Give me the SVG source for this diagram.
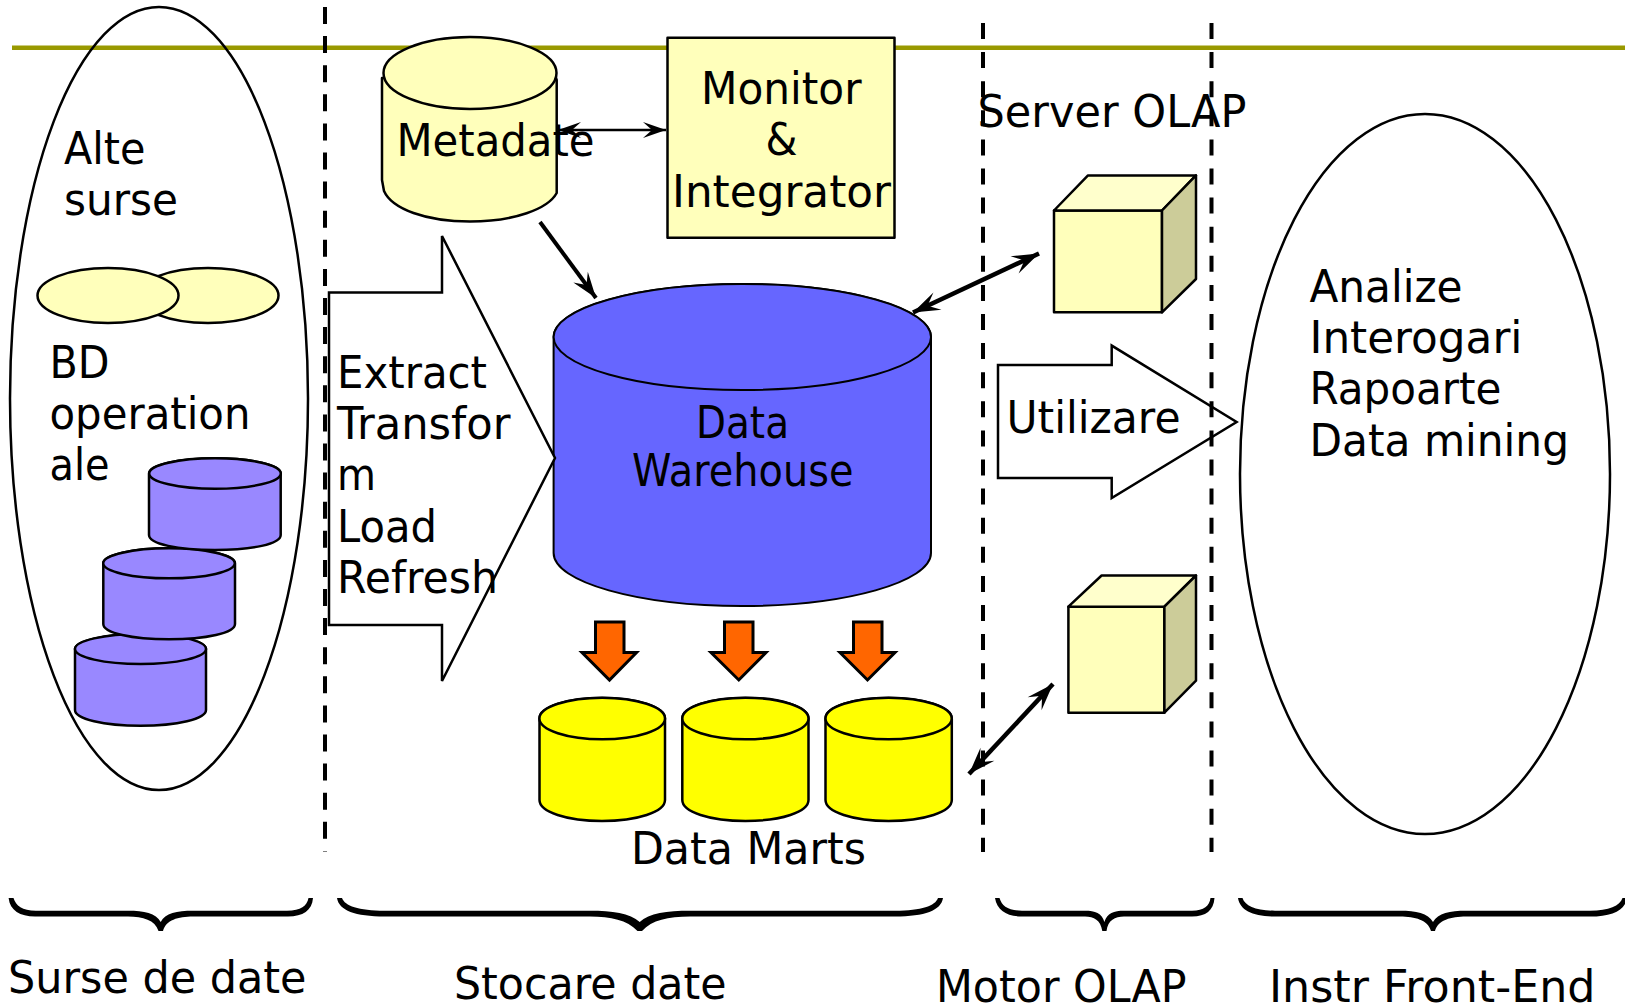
<svg xmlns="http://www.w3.org/2000/svg" width="1625" height="1007" viewBox="0 0 1625 1007">
<style>
text{font-family:"DejaVu Sans",Verdana,sans-serif;font-size:44px;fill:#000}
.s{stroke:#000;stroke-width:2.5;stroke-linejoin:round}
.blob{fill:none;stroke:#000;stroke-width:2.5}
.dash{stroke:#000;stroke-width:4;fill:none}
.lite{fill:#ffffbb}
.top{fill:#ffffcc}
.side{fill:#cccc99}
.purple{fill:#9988ff}
.yellow{fill:#ffff00}
.blue{fill:#6666ff;stroke-width:2}
.orange{fill:#ff6600;stroke:#000;stroke-width:3;stroke-linejoin:miter}
.arr{fill:#fff;stroke:#000;stroke-width:2.5;stroke-linejoin:miter}
.brace{fill:#000}
</style>
<defs>
<marker id="hb" markerUnits="userSpaceOnUse" markerWidth="30" markerHeight="22" refX="28" refY="11" orient="auto-start-reverse" overflow="visible">
<path d="M28 11 L1 1.5 L12 11 L1 20.5 Z" fill="#000"/>
</marker>
<marker id="hm" markerUnits="userSpaceOnUse" markerWidth="30" markerHeight="22" refX="28" refY="11" orient="auto" overflow="visible">
<path d="M28 11 L2 2 L12 11 L2 20 Z" fill="#000"/>
</marker>
<marker id="hs" markerUnits="userSpaceOnUse" markerWidth="30" markerHeight="22" refX="28" refY="11" orient="auto-start-reverse" overflow="visible">
<path d="M28 11 L5 3 L14 11 L5 19 Z" fill="#000"/>
</marker>
</defs>

<rect id="rule" x="12" y="45.5" width="1613" height="4.5" fill="#999900"/>

<g id="surse-ellipse"><ellipse class="blob" cx="159" cy="398.5" rx="149" ry="391.5"/></g>
<g id="front-end-ellipse"><ellipse class="blob" cx="1425" cy="474" rx="185" ry="360"/></g>

<g id="metadata">
<path class="s lite" d="M382 78 V180 L384 191 C392 209 426 221.5 470 221.5 C514 221.5 548 209 556.7 193 V80 L556 78 H383 Z"/>
<ellipse class="s lite" cx="470" cy="73" rx="86.5" ry="36"/>
</g>

<g id="monitor">
<rect class="s lite" x="667.5" y="37.7" width="227" height="200"/>
</g>

<g id="warehouse">
<path class="s blue" d="M553.6 337 V553 C553.6 582 638 606 742 606 C846 606 931 582 931 553 V337 C931 308 846 284 742 284 C638 284 553.6 308 553.6 337 Z"/>
<ellipse class="s blue" cx="742.3" cy="337" rx="188.7" ry="53"/>
</g>

<g id="etl">
<path class="arr" d="M329 292.5 H442 V236 L555 458 L442 681 V625 H329 Z"/>
</g>

<g id="utilizare">
<path class="arr" d="M998 365 H1111.7 V345.6 L1236.6 422 L1111.7 498 V478 H998 Z"/>
</g>

<g id="cube-top">
<path class="s lite" d="M1054 210.5 H1162 V312.3 H1054 Z"/>
<path class="s top" d="M1054 210.5 L1088 175.4 H1196 L1162 210.5 Z"/>
<path class="s side" d="M1162 210.5 L1196 175.4 V279 L1162 312.3 Z"/>
</g>

<g id="cube-bottom">
<path class="s lite" d="M1068.4 606.7 H1164.4 V712.7 H1068.4 Z"/>
<path class="s top" d="M1068.4 606.7 L1101.6 575.5 H1196 L1164.4 606.7 Z"/>
<path class="s side" d="M1164.4 606.7 L1196 575.5 V680.7 L1164.4 712.7 Z"/>
</g>

<g id="ellipses-alte">
<ellipse class="s lite" cx="208" cy="295.5" rx="70.5" ry="27.5"/>
<ellipse class="s lite" cx="108" cy="295.5" rx="70.5" ry="27.5"/>
</g>

<g id="bd-3">
<path class="s purple" d="M75 649 V710 C75 719 104 725.7 140.5 725.7 C177 725.7 206 719 206 710 V649 C206 641 177 634.3 140.5 634.3 C104 634.3 75 641 75 649 Z"/>
<ellipse class="s purple" cx="140.5" cy="649" rx="65.5" ry="15"/>
</g>
<g id="bd-2">
<path class="s purple" d="M103.3 563.3 V624 C103.3 633 132 639.3 169 639.3 C206 639.3 235 633 235 624 V563.3 C235 555 206 548.3 169 548.3 C132 548.3 103.3 555 103.3 563.3 Z"/>
<ellipse class="s purple" cx="169" cy="563.3" rx="65.8" ry="15"/>
</g>
<g id="bd-1">
<path class="s purple" d="M149 473.5 V535 C149 544 178 550 215 550 C252 550 280.7 544 280.7 535 V473.5 C280.7 465 252 458.3 215 458.3 C178 458.3 149 465 149 473.5 Z"/>
<ellipse class="s purple" cx="215" cy="473.5" rx="65.8" ry="15.3"/>
</g>

<g id="mart-1">
<path class="s yellow" d="M539.5 718.5 V800 C539.5 812 567 821 602 821 C637 821 665 812 665 800 V718.5 C665 707 637 698 602 698 C567 698 539.5 707 539.5 718.5 Z"/>
<ellipse class="s yellow" cx="602.2" cy="718.5" rx="62.8" ry="20.8"/>
</g>
<g id="mart-2">
<path class="s yellow" d="M682.3 718.5 V800 C682.3 812 710 821 745.4 821 C781 821 808.5 812 808.5 800 V718.5 C808.5 707 781 698 745.4 698 C710 698 682.3 707 682.3 718.5 Z"/>
<ellipse class="s yellow" cx="745.4" cy="718.5" rx="63.1" ry="20.8"/>
</g>
<g id="mart-3">
<path class="s yellow" d="M825.5 718.5 V800 C825.5 812 853 821 888.6 821 C924 821 951.8 812 951.8 800 V718.5 C951.8 707 924 698 888.6 698 C853 698 825.5 707 825.5 718.5 Z"/>
<ellipse class="s yellow" cx="888.6" cy="718.5" rx="63.1" ry="20.8"/>
</g>

<g id="down-arrows">
<path class="orange" d="M595.5 622 H624 V652.5 H636.5 L609.5 680 L582 652.5 H595.5 Z"/>
<path class="orange" d="M724.5 622 H753 V652.5 H766 L738.8 680 L711 652.5 H724.5 Z"/>
<path class="orange" d="M853.5 622 H882 V652.5 H895 L867.5 680 L840 652.5 H853.5 Z"/>
</g>

<g id="connectors" fill="none" stroke="#000">
<line class="dash" x1="325" y1="7" x2="325" y2="851.5" stroke-dasharray="17 12.1"/>
<line class="dash" x1="983" y1="23" x2="983" y2="852" stroke-dasharray="16 13.1"/>
<line class="dash" x1="1211.5" y1="23" x2="1211.5" y2="852" stroke-dasharray="16 13.1"/>
<line x1="558" y1="130" x2="666" y2="130" stroke-width="2.5" marker-start="url(#hs)" marker-end="url(#hs)"/>
<line x1="540" y1="222" x2="596" y2="298" stroke-width="4" marker-end="url(#hm)"/>
<line x1="913" y1="312.5" x2="1039" y2="253.5" stroke-width="4.5" marker-start="url(#hb)" marker-end="url(#hb)"/>
<line x1="969" y1="774" x2="1053" y2="684" stroke-width="4.5" marker-start="url(#hb)" marker-end="url(#hb)"/>
</g>

<g id="braces">
<path class="brace" d="M8.6 898 H13.5 C16 906 22 910.7 36 910.7 H128 C144 910.7 156 913 160.7 922 C165 913 177 910.7 193 910.7 H287 C301 910.7 307 906 308.5 898 H313 C312 910.5 303 916.5 288 916.5 H193 C178 916.5 166 920 163 931 H158.5 C155 920 143 916.5 128 916.5 H35 C20 916.5 10 910.5 8.6 898 Z"/>
<path class="brace" d="M337 898 H342 C345 906 358 910.7 385 910.7 H590 C612 910.7 630 913 639.7 922 C649 913 667 910.7 690 910.7 H895 C922 910.7 935 906 938 898 H943 C941 910.5 925 916.5 895 916.5 H690 C668 916.5 652 920 642 931 H637.5 C627 920 611 916.5 590 916.5 H385 C355 916.5 339 910.5 337 898 Z"/>
<path class="brace" d="M995 898 H999.5 C1002 906 1008 910.7 1022 910.7 H1085 C1095 910.7 1102 913 1104.4 922 C1107 913 1114 910.7 1124 910.7 H1192 C1204 910.7 1209.5 906 1210.5 898 H1214.5 C1213.5 910.5 1206 916.5 1192 916.5 H1124 C1115 916.5 1108 920 1106.5 931 H1102.3 C1100.5 920 1094 916.5 1085 916.5 H1022 C1007 916.5 997 910.5 995 898 Z"/>
<path class="brace" d="M1238 898 H1242.5 C1245 906 1256 910.7 1275 910.7 H1400 C1416 910.7 1428 913 1433 922 C1438 913 1450 910.7 1466 910.7 H1590 C1609 910.7 1620 906 1622.5 898 H1627 C1625 910.5 1612 916.5 1590 916.5 H1466 C1451 916.5 1438 920 1435 931 H1431 C1428 920 1415 916.5 1400 916.5 H1275 C1253 916.5 1240 910.5 1238 898 Z"/>
</g>

<g id="labels">
<text x="64" y="163.5" textLength="81.5" lengthAdjust="spacingAndGlyphs">Alte</text>
<text x="64" y="214.5" textLength="114" lengthAdjust="spacingAndGlyphs">surse</text>
<text x="49.5" y="377.5" textLength="60" lengthAdjust="spacingAndGlyphs">BD</text>
<text x="49.5" y="429" textLength="201" lengthAdjust="spacingAndGlyphs">operation</text>
<text x="49.5" y="480" textLength="60" lengthAdjust="spacingAndGlyphs">ale</text>
<text x="396.5" y="156" textLength="198" lengthAdjust="spacingAndGlyphs">Metadate</text>
<text x="701" y="104" textLength="160.5" lengthAdjust="spacingAndGlyphs">Monitor</text>
<text x="765.5" y="154.5" textLength="32" lengthAdjust="spacingAndGlyphs">&amp;</text>
<text x="672" y="206.5" textLength="219" lengthAdjust="spacingAndGlyphs">Integrator</text>
<text x="337" y="388" textLength="150" lengthAdjust="spacingAndGlyphs">Extract</text>
<text x="337" y="439" textLength="173.5" lengthAdjust="spacingAndGlyphs">Transfor</text>
<text x="337" y="490" textLength="39" lengthAdjust="spacingAndGlyphs">m</text>
<text x="337" y="542" textLength="100" lengthAdjust="spacingAndGlyphs">Load</text>
<text x="337" y="593" textLength="161" lengthAdjust="spacingAndGlyphs">Refresh</text>
<text x="696" y="438" textLength="93" lengthAdjust="spacingAndGlyphs">Data</text>
<text x="632" y="486" textLength="221.5" lengthAdjust="spacingAndGlyphs">Warehouse</text>
<text x="977.5" y="126.5" textLength="269" lengthAdjust="spacingAndGlyphs">Server OLAP</text>
<text x="1006.5" y="432.5" textLength="174" lengthAdjust="spacingAndGlyphs">Utilizare</text>
<text x="1309.5" y="301.5" textLength="153" lengthAdjust="spacingAndGlyphs">Analize</text>
<text x="1309.5" y="352.5" textLength="213" lengthAdjust="spacingAndGlyphs">Interogari</text>
<text x="1309.5" y="403.5" textLength="192" lengthAdjust="spacingAndGlyphs">Rapoarte</text>
<text x="1309.5" y="455.5" textLength="259.5" lengthAdjust="spacingAndGlyphs">Data mining</text>
<text x="631" y="863.5" textLength="235" lengthAdjust="spacingAndGlyphs">Data Marts</text>
<text x="8" y="993" textLength="298.5" lengthAdjust="spacingAndGlyphs">Surse de date</text>
<text x="454" y="999" textLength="272.5" lengthAdjust="spacingAndGlyphs">Stocare date</text>
<text x="936" y="1001.5" textLength="250.5" lengthAdjust="spacingAndGlyphs">Motor OLAP</text>
<text x="1269" y="1001.5" textLength="326.5" lengthAdjust="spacingAndGlyphs">Instr Front-End</text>
</g>
</svg>
